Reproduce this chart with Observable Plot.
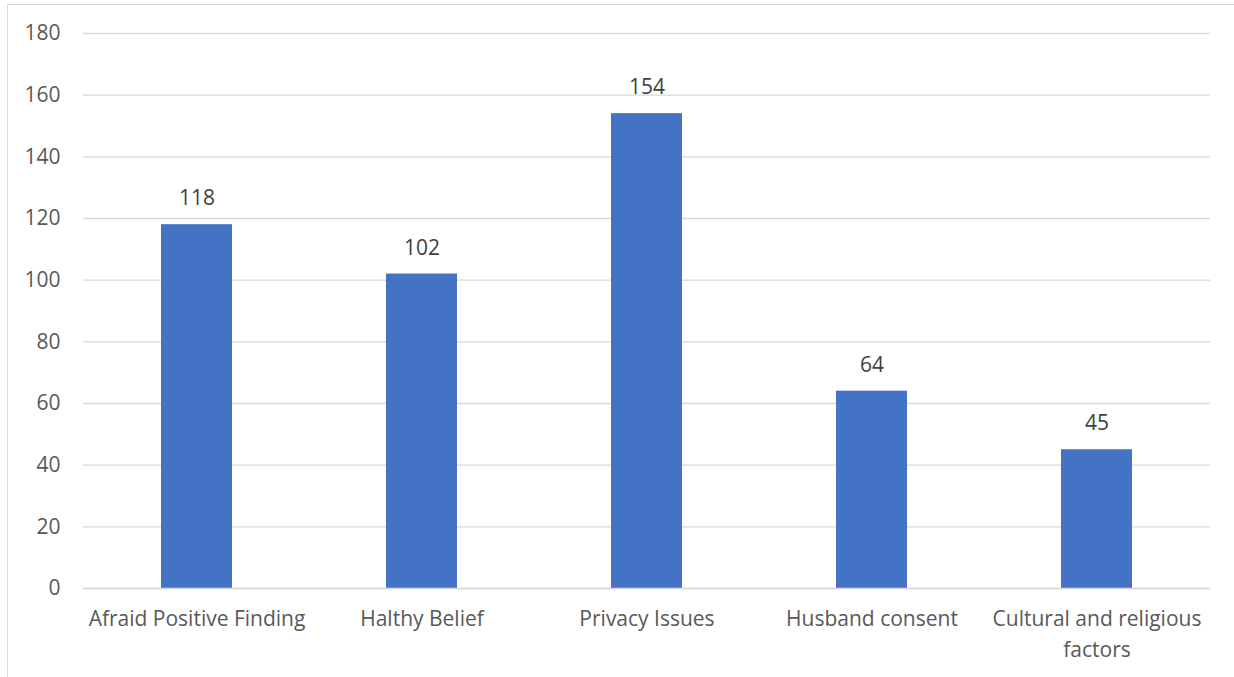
<!DOCTYPE html>
<html>
<head>
<meta charset="utf-8">
<script src="https://cdn.jsdelivr.net/npm/d3@7"></script>
<script src="https://cdn.jsdelivr.net/npm/@observablehq/plot@0.6"></script>
<style>
  html, body { margin: 0; padding: 0; background: #fff; overflow: hidden; }
  #frame { position: absolute; left: 7px; top: 4px; width: 1240px; height: 700px; border: 1.5px solid #d9d9d9; box-sizing: border-box; }
  #chart { position: absolute; left: 0; top: 0; }
</style>
</head>
<body>
<div id="frame"></div>
<div id="chart"></div>
<script>
const categories = ["Afraid Positive Finding", "Halthy Belief", "Privacy Issues", "Husband consent", "Cultural and religious factors"];
const values = [118, 102, 154, 64, 45];
const tickLabels = ["Afraid Positive Finding", "Halthy Belief", "Privacy Issues", "Husband consent", "Cultural and religious\nfactors"];
const yTicks = [0, 20, 40, 60, 80, 100, 120, 140, 160, 180];

const data = categories.map((c, i) => ({category: c, value: values[i]}));
const labelOf = new Map(categories.map((c, i) => [c, tickLabels[i]]));
const font = "'Open Sans', sans-serif";
const fs = 21;

const chart = Plot.plot({
  width: 1234,
  height: 677,
  marginLeft: 83,
  marginRight: 24,
  marginTop: 33,
  marginBottom: 89,
  style: {fontFamily: font, fontSize: fs + "px", color: "#595959", background: "transparent", overflow: "visible"},
  x: {domain: categories, paddingInner: 0.685, paddingOuter: 0.3425},
  y: {domain: [0, 180]},
  marks: [
    Plot.gridY(yTicks, {stroke: "#d9d9d9", strokeOpacity: 1, strokeWidth: 1.3}),
    Plot.barY(data, {x: "category", y: "value", fill: "#4472c4"}),
    Plot.ruleY([0], {stroke: "#d9d9d9", strokeWidth: 1.5}),
    Plot.text(data, {x: "category", y: "value", text: d => String(d.value), dy: -26, fill: "#404040", fontSize: fs}),
    Plot.axisY({ticks: yTicks, tickSize: 0, tickPadding: 23, label: null, fill: "#595959", fontSize: fs}),
    Plot.axisX({tickSize: 0, tickPadding: 16, label: null, tickFormat: d => labelOf.get(d), fill: "#595959", fontSize: fs, lineHeight: 1.45, textAnchor: "middle"})
  ]
});
document.getElementById("chart").appendChild(chart);
</script>
</body>
</html>
